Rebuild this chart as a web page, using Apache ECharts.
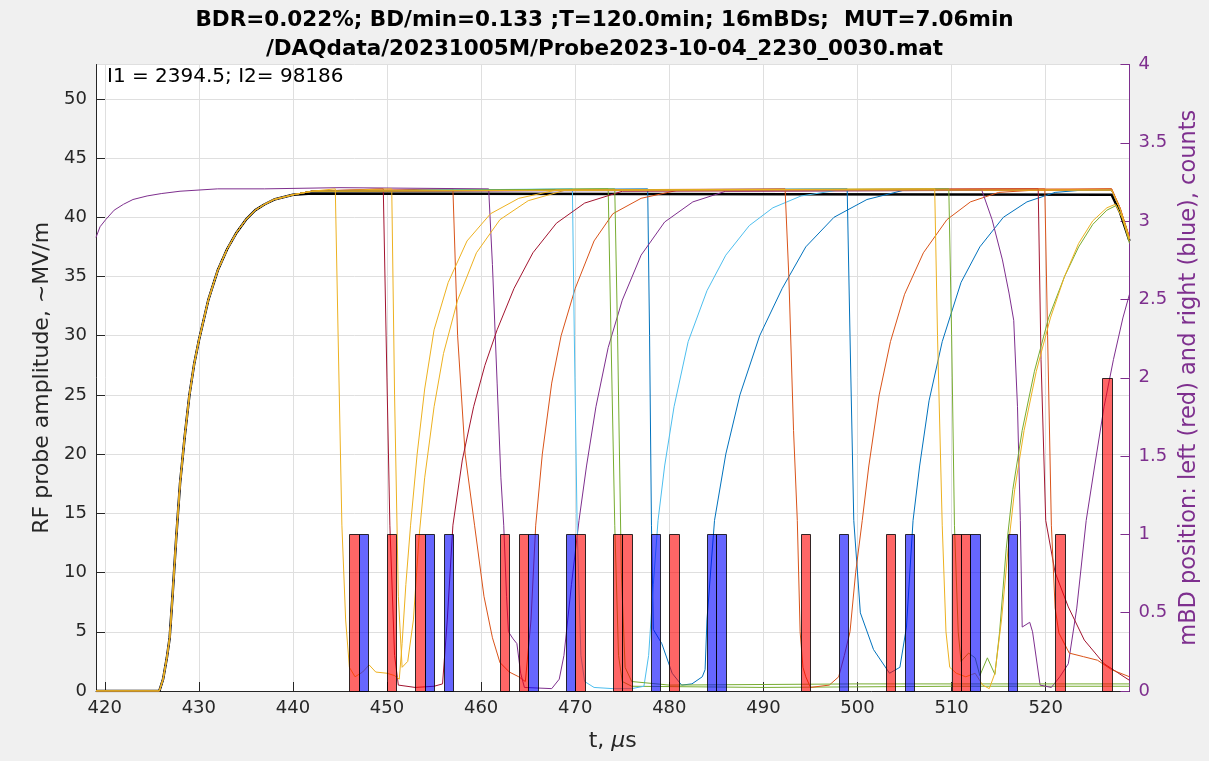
<!DOCTYPE html>
<html><head><meta charset="utf-8">
<script src="https://cdn.jsdelivr.net/npm/echarts@6/dist/echarts.min.js"></script>
<style>html,body{margin:0;padding:0;background:#F0F0F0}#c{width:1209px;height:761px}</style>
</head><body><div id="c"></div>
<script>
// ---------------- DATA ----------------
const titleLine1 = 'BDR=0.022%; BD/min=0.133 ;T=120.0min; 16mBDs;  MUT=7.06min';
const titleLine2 = '/DAQdata/20231005M/Probe2023-10-04_2230_0030.mat';
const annotation = 'I1 = 2394.5; I2= 98186';
const xLabel = 't, ';
const yLeftLabel = 'RF probe amplitude, ~MV/m';
const yRightLabel = 'mBD position: left (red) and right (blue), counts';

const xRange = [419.07, 528.9];
const yLeftRange = [0, 52.9];
const yRightRange = [0, 4];

// histogram of mBD positions (bin start, 1 us bins)
const binWidth = 1;
const redBinStarts = [446, 450, 453, 462, 464, 470, 474, 475, 480, 494, 503, 510, 511, 521, 526];
const redCounts    = [1, 1, 1, 1, 1, 1, 1, 1, 1, 1, 1, 1, 1, 1, 2];
const blueBinStarts = [447, 454, 456, 465, 469, 478, 484, 485, 498, 505, 512, 516];
const blueCounts    = [1, 1, 1, 1, 1, 1, 1, 1, 1, 1, 1, 1];

// common rising edge of the pulses [t, amplitude]
const commonRise = [[419.07,0],[425.8,0],[426.2,1],[426.6,2.8],[426.9,4.5],[427.2,8],[427.6,13],[428.0,17.5],[428.5,21.5],[429.0,25],[429.5,27.6],[430.0,29.6],[431.0,33],[432.0,35.5],[433.0,37.3],[434.0,38.7],[435.0,39.8],[436.0,40.6],[437.0,41.1],[438.0,41.5],[440.0,41.9]];

const refTail = [[442,42.0],[527.0,41.9],[527.9,40.4],[528.9,38.0]];

const yA = [[442,42.2],[444.5,42.4],[444.8,30],[445.2,14],[445.6,6],[446.0,2],[446.6,1.2],[447.4,1.6],[448.1,2.2],[448.8,1.6],[450.0,1.5],[450.8,1.3],[451.3,1.0],[451.6,4],[452.0,9],[452.5,14],[453.2,20],[454.0,25.5],[455.0,30.5],[456.5,34.5],[458.5,38],[461.0,40.3],[464.0,41.6],[468.0,42.3],[527.0,42.3],[527.9,40.7],[528.9,38.2]];
const yB = [[442,42.2],[450.5,42.4],[450.8,25],[451.2,8],[451.6,2],[452.2,2.5],[452.8,6],[453.4,13],[454.0,18],[455.0,24],[456.0,28.5],[457.5,33],[459.5,37],[462.0,39.8],[465.0,41.4],[469.0,42.3],[527.0,42.3],[527.9,40.7],[528.9,38.2]];
const dr1 = [[442,42.2],[449.6,42.4],[449.9,30],[450.3,14],[450.8,3],[451.2,0.5],[453.0,0.3],[455.0,0.4],[455.9,0.6],[456.4,6],[457.0,14],[458.0,19.5],[459.2,24],[460.4,27.5],[461.7,30.5],[463.5,34],[465.5,37],[468.0,39.5],[471.0,41.2],[475.0,42.2],[527.0,42.3],[527.9,40.7],[528.9,38.2]];
const oA = [[442,42.2],[457.0,42.4],[457.5,30],[458.3,20],[459.3,14],[460.3,8],[461.2,4.5],[462.0,2.4],[463.0,1.6],[464.0,1.2],[464.7,0.8],[465.3,6],[465.8,14],[466.5,20],[467.5,26],[468.5,30],[470.0,34],[472.0,38],[474.0,40.3],[477.0,41.6],[481.0,42.3],[527.0,42.4],[527.9,40.8],[528.9,38.3]];
const pA = [[419.07,38.3],[419.5,39.2],[420.1,39.8],[421.0,40.6],[422.0,41.1],[423.0,41.5],[424.5,41.8],[426.0,42.0],[428.0,42.2],[432.0,42.4],[437.0,42.4],[445.0,42.5],[460.8,42.4],[461.2,36],[461.7,26],[462.1,18],[462.4,14],[462.7,8],[462.9,5],[463.4,4.4],[463.8,4],[464.2,1.5],[464.6,0.3],[467.5,0.2],[468.3,1],[468.8,3],[469.6,9],[470.4,14.4],[471.2,19],[472.2,24],[473.5,29],[475.0,33],[477.0,36.8],[479.5,39.6],[482.5,41.3],[486.0,42.2],[527.0,42.3],[527.9,40.7],[528.9,38.2]];
const lbA = [[442,42.2],[469.7,42.4],[469.9,30],[470.2,14],[470.6,3],[471.0,0.8],[472.0,0.3],[474.0,0.2],[476.0,0.2],[477.3,0.4],[477.8,3],[478.3,9],[478.8,14.4],[479.5,19],[480.5,24],[482.0,29.5],[484.0,33.8],[486.0,36.8],[488.5,39.3],[491.0,40.8],[494.0,41.8],[498.0,42.3],[527.0,42.3],[527.9,40.7],[528.9,38.2]];
const gA = [[442,42.2],[473.5,42.4],[473.8,30],[474.2,14],[474.6,3],[475.0,0.8],[476.0,0.4],[490.0,0.3],[510.0,0.4],[528.9,0.4]];
const gA2 = [[442,42.2],[474.2,42.4],[474.5,30],[474.9,10],[475.3,2],[476.0,0.8],[480.0,0.5],[500.0,0.6],[528.9,0.6]];
const bA = [[442,42.2],[477.7,42.4],[477.9,30],[478.1,14],[478.3,5.2],[479.2,4],[480.3,1.5],[481.3,0.5],[482.4,0.6],[483.5,1.2],[483.8,1.8],[484.0,6],[484.8,14.4],[486.0,20],[487.5,25],[489.6,30],[492.0,34],[494.5,37.5],[497.5,40],[501.0,41.5],[505.0,42.3],[527.0,42.3],[527.9,40.7],[528.9,38.2]];
const oB = [[442,42.2],[492.3,42.4],[492.7,35],[493.2,22],[493.6,14.4],[493.9,5],[494.2,2],[494.5,1.2],[495.0,0.3],[497.0,0.5],[498.0,1.2],[498.6,3],[499.2,5],[499.8,10],[500.5,14.4],[501.2,19],[502.3,25],[503.5,29.5],[505.0,33.5],[507.0,37],[509.5,39.8],[512.0,41.3],[515.0,42.1],[519.0,42.3],[527.0,42.4],[527.9,40.8],[528.9,38.3]];
const bB = [[442,42.2],[498.9,42.4],[499.2,30],[499.6,14.4],[500.3,6.6],[501.7,3.5],[503.4,1.5],[504.5,2],[505.2,5.4],[505.9,14.4],[506.6,19],[507.6,24.5],[509.0,29.5],[511.0,34.5],[513.0,37.5],[515.5,40],[518.0,41.3],[521.0,42.1],[524.0,42.3],[527.0,42.3],[527.9,40.7],[528.9,38.2]];
const yC = [[442,42.2],[508.2,42.4],[508.5,30],[509.0,14],[509.4,5],[509.8,2],[510.5,1.5],[511.5,1.2],[512.5,1.5],[513.3,0.5],[514.0,0.2],[514.6,1.5],[515.3,6],[516.0,12],[516.7,17],[517.7,22],[519.0,27],[520.5,31.5],[522.0,35],[523.5,37.8],[525.0,39.7],[526.5,40.8],[527.4,41.1],[528.1,40.0],[528.9,38.0]];
const gB = [[442,42.2],[509.7,42.4],[510.0,30],[510.3,14],[510.7,5],[511.0,2.5],[511.8,3.2],[512.5,2.8],[513.0,1.3],[513.8,2.8],[514.6,1.4],[515.1,5],[515.8,12],[516.5,17],[517.5,22],[518.8,27],[520.3,31.5],[522.0,35],[523.5,37.5],[525.0,39.4],[526.5,40.6],[527.5,41.0],[528.2,39.8],[528.9,37.8]];
const pB = [[442,42.2],[513.2,42.3],[514.3,39.8],[515.4,36.4],[516.1,33.6],[516.6,31.3],[517.0,24],[517.3,14.4],[517.5,5.4],[518.3,5.8],[518.6,5],[519.4,0.5],[520.6,0.3],[521.5,1.2],[522.4,2.3],[523.3,7],[524.3,14.4],[525.2,19],[526.2,24],[527.2,28],[528.2,31.5],[528.9,33.5]];
const dr2 = [[442,42.2],[519.2,42.4],[519.5,28],[520.0,14.4],[521.0,10],[522.4,7.1],[524.1,4.3],[526.2,2.3],[528.9,0.9]];
const oC = [[442,42.2],[519.9,42.4],[520.2,30],[520.6,14],[521.0,7],[521.4,4.9],[522.5,3.2],[524.0,2.9],[525.5,2.6],[527.0,1.8],[528.9,1.2]];

// ---------------- CHART ----------------
const C = {blue:'#0072BD', orange:'#D95319', yellow:'#EDB120', purple:'#7E2F8E', green:'#77AC30', lblue:'#4DBEEE', dred:'#A2142F'};
const traceDefs = [
  [C.blue,   commonRise.concat(bA)],
  [C.orange, commonRise.concat(oA)],
  [C.purple, pA],
  [C.green,  commonRise.concat(gA)],
  [C.lblue,  commonRise.concat(lbA)],
  [C.dred,   commonRise.concat(dr1)],
  [C.blue,   commonRise.concat(bB)],
  [C.orange, commonRise.concat(oB)],
  [C.yellow, commonRise.concat(yB)],
  [C.purple, commonRise.concat(pB)],
  [C.green,  commonRise.concat(gA2)],
  [C.dred,   commonRise.concat(dr2)],
  [C.orange, commonRise.concat(oC)],
  [C.green,  commonRise.concat(gB)],
  [C.yellow, commonRise.concat(yA)],
  [C.yellow, commonRise.concat(yC)]
];

const series = [{type:'line', data: commonRise.concat(refTail), showSymbol:false, symbol:'none', z:1,
  lineStyle:{width:2.5, color:'#000'}, silent:true, animation:false}];
traceDefs.forEach(([color, data]) => series.push({
  type:'line', data, showSymbol:false, symbol:'none', z:2, clip:true,
  lineStyle:{width:1, color}, itemStyle:{color}, silent:true, animation:false
}));

function barSeries(starts, counts, fill){
  return {
    type:'custom', xAxisIndex:0, yAxisIndex:1, z:5, silent:true, animation:false,
    encode:{x:[0,2], y:1},
    data: starts.map((s,i)=>[s, counts[i], s+binWidth]),
    renderItem(params, api){
      const p0 = api.coord([api.value(0), api.value(1)]);
      const p1 = api.coord([api.value(2), 0]);
      return {type:'rect', shape:{x:Math.round(p0[0])+0.5, y:Math.round(p0[1])+0.5,
        width:Math.round(p1[0])-Math.round(p0[0]), height:Math.round(p1[1])-Math.round(p0[1])},
        style:{fill, stroke:'rgba(0,0,0,0.8)', lineWidth:1}};
    }
  };
}
series.push(barSeries(redBinStarts, redCounts, 'rgba(255,0,0,0.6)'));
series.push(barSeries(blueBinStarts, blueCounts, 'rgba(0,0,255,0.6)'));

const font = 'DejaVu Sans';
const axisDark = '#262626';
const chart = echarts.init(document.getElementById('c'), null, {renderer:'canvas'});
chart.setOption({
  backgroundColor:'#F0F0F0',
  animation:false,
  title:{text: titleLine1 + '\n' + titleLine2, left:'center', top:1,
    textStyle:{fontFamily:font, fontWeight:'bold', fontSize:21.5, lineHeight:29, color:'#000'}},
  graphic:[{type:'text', left:107, top:67, z:10,
    style:{text:annotation, fontFamily:font, fontSize:20, fill:'#000'}}],
  grid:{left:96, right:70.5, top:64.5, bottom:70, show:true, backgroundColor:'#fff', borderWidth:0, containLabel:false},
  xAxis:{type:'value', min:xRange[0], max:xRange[1], minInterval:10, maxInterval:10,
    name: '{a|' + xLabel + '}{b|μ}{a|s}', nameLocation:'middle', nameGap:39,
    nameTextStyle:{rich:{a:{fontFamily:font, fontSize:22, color:axisDark}, b:{fontFamily:font, fontSize:22, fontStyle:'italic', color:axisDark}}},
    axisLine:{show:true, lineStyle:{color:axisDark, width:1}},
    axisTick:{show:true, inside:true, length:9, lineStyle:{color:axisDark}},
    axisLabel:{fontFamily:font, fontSize:18, color:axisDark, margin:8, showMinLabel:false, showMaxLabel:false},
    splitLine:{show:true, lineStyle:{color:'#DFDFDF', width:1}}},
  yAxis:[
    {type:'value', min:yLeftRange[0], max:yLeftRange[1], minInterval:5, maxInterval:5, position:'left',
      name:yLeftLabel, nameLocation:'middle', nameGap:36, nameRotate:90,
      nameTextStyle:{fontFamily:font, fontSize:22, color:axisDark},
      axisLine:{show:true, lineStyle:{color:axisDark, width:1}},
      axisTick:{show:true, inside:true, length:9, lineStyle:{color:axisDark}},
      axisLabel:{fontFamily:font, fontSize:18, color:axisDark, margin:9, showMaxLabel:false},
      splitLine:{show:true, lineStyle:{color:'#DFDFDF', width:1}}},
    {type:'value', min:yRightRange[0], max:yRightRange[1], interval:0.5, position:'right',
      name:yRightLabel, nameLocation:'middle', nameGap:41, nameRotate:90,
      nameTextStyle:{fontFamily:font, fontSize:22.5, color:C.purple},
      axisLine:{show:true, lineStyle:{color:C.purple, width:1}},
      axisTick:{show:true, inside:true, length:9, lineStyle:{color:C.purple}},
      axisLabel:{fontFamily:font, fontSize:18, color:C.purple, margin:9},
      splitLine:{show:false}}
  ],
  series
});
</script></body></html>
